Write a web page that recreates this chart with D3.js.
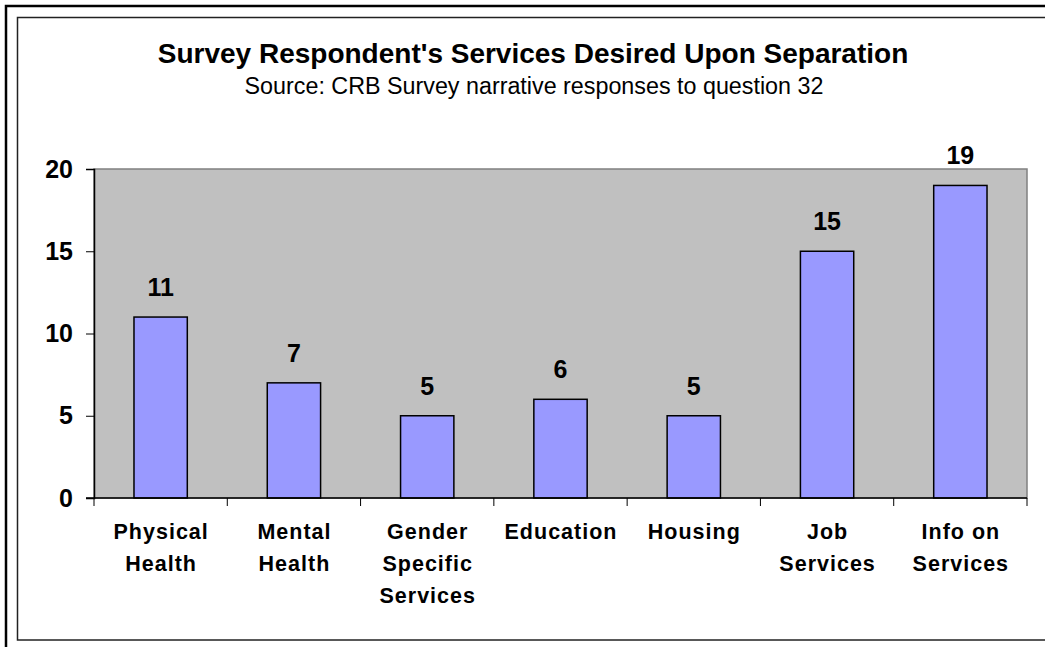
<!DOCTYPE html>
<html>
<head>
<meta charset="utf-8">
<script src="https://cdn.jsdelivr.net/npm/d3@7"></script>
<style>
  html, body { margin: 0; padding: 0; background: #fff; overflow: hidden; }
  svg { display: block; font-family: Arial, "Liberation Sans", sans-serif; }
</style>
</head>
<body>
<svg id="chart" width="1045" height="647"></svg>
<script>
// Survey data: services desired upon separation
const categories = [
  ["Physical", "Health"],
  ["Mental", "Health"],
  ["Gender", "Specific", "Services"],
  ["Education"],
  ["Housing"],
  ["Job", "Services"],
  ["Info on", "Services"]
];
const values = [11, 7, 5, 6, 5, 15, 19];
const yTicks = [0, 5, 10, 15, 20];

const titleText = "Survey Respondent's Services Desired Upon Separation";
const subtitleText = "Source: CRB Survey narrative responses to question 32";

const svg = d3.select("#chart");
const W = 1045, H = 647;

// Outer and inner frames
svg.append("rect").attr("x", 6).attr("y", 6).attr("width", W + 20).attr("height", H + 20)
  .attr("fill", "#fff").attr("stroke", "#000").attr("stroke-width", 2.5);
svg.append("rect").attr("x", 17.5).attr("y", 17.5).attr("width", W + 20).attr("height", 622.5)
  .attr("fill", "#fff").attr("stroke", "#222").attr("stroke-width", 1.5);

// Titles
svg.append("text").attr("x", 533).attr("y", 63).attr("text-anchor", "middle")
  .attr("font-size", 28).attr("font-weight", "bold").text(titleText);
svg.append("text").attr("x", 534).attr("y", 94).attr("text-anchor", "middle")
  .attr("font-size", 23.3).text(subtitleText);

// Plot area
const plot = { left: 94, right: 1027, top: 169, bottom: 498 };
const keys = categories.map((c, i) => i);

const x = d3.scaleBand().domain(keys).range([plot.left, plot.right]).paddingInner(0.6).paddingOuter(0.3);
const xb = d3.scaleBand().domain(keys).range([plot.left, plot.right]);
const y = d3.scaleLinear().domain([0, 20]).range([plot.bottom, plot.top]);

svg.append("rect").attr("x", plot.left).attr("y", plot.top)
  .attr("width", plot.right - plot.left).attr("height", plot.bottom - plot.top)
  .attr("fill", "#c0c0c0").attr("stroke", "#808080").attr("stroke-width", 1.5);

// Bars
svg.append("g").selectAll("rect").data(values).join("rect")
  .attr("x", (d, i) => x(i))
  .attr("y", d => y(d))
  .attr("width", x.bandwidth())
  .attr("height", d => y(0) - y(d))
  .attr("fill", "#9999ff")
  .attr("stroke", "#000")
  .attr("stroke-width", 1.5);

// Value labels
svg.append("g").selectAll("text").data(values).join("text")
  .attr("x", (d, i) => x(i) + x.bandwidth() / 2)
  .attr("y", d => y(d) - 21)
  .attr("text-anchor", "middle")
  .attr("font-size", 25).attr("font-weight", "bold")
  .text(d => d);

// Y axis
const yAxis = d3.axisLeft(y).tickValues(yTicks).tickSize(8).tickPadding(13);
const gy = svg.append("g").attr("transform", `translate(${plot.left},0)`).call(yAxis);
gy.select(".domain").attr("stroke", "#000").attr("stroke-width", 1.5);
gy.selectAll(".tick line").attr("stroke", "#000");
gy.selectAll(".tick text").attr("font-size", 25).attr("font-weight", "bold")
  .attr("font-family", "Arial, 'Liberation Sans', sans-serif").attr("fill", "#000");

// X axis: line with ticks at category boundaries
const gx = svg.append("g");
gx.append("line").attr("x1", plot.left - 8).attr("x2", plot.right)
  .attr("y1", plot.bottom).attr("y2", plot.bottom)
  .attr("stroke", "#000").attr("stroke-width", 1.5);
const bounds = keys.map(k => xb(k)).concat([xb.range()[1]]);
gx.selectAll("line.tk").data(bounds).join("line").attr("class", "tk")
  .attr("x1", d => d).attr("x2", d => d)
  .attr("y1", plot.bottom).attr("y2", plot.bottom + 8)
  .attr("stroke", "#000");

// Category labels
const labels = gx.selectAll("text.cat").data(categories).join("text").attr("class", "cat")
  .attr("text-anchor", "middle")
  .attr("font-size", 21.5).attr("font-weight", "bold")
  .attr("letter-spacing", 1);
labels.each(function(lines, i) {
  const t = d3.select(this);
  lines.forEach((ln, j) => {
    t.append("tspan").attr("x", xb(i) + xb.bandwidth() / 2 + 0.5)
      .attr("y", 539 + j * 32).text(ln);
  });
});
</script>
</body>
</html>
